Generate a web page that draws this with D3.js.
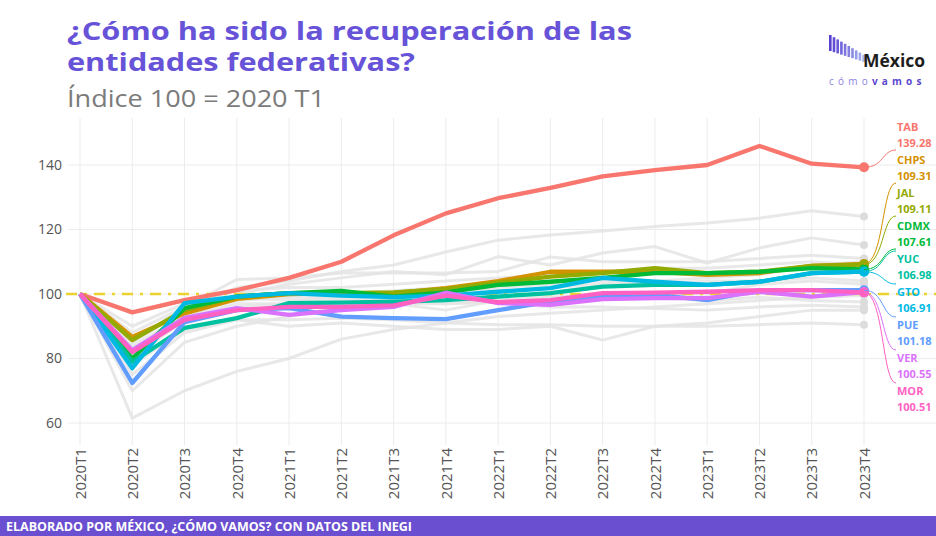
<!DOCTYPE html>
<html>
<head>
<meta charset="utf-8">
<script src="https://cdn.jsdelivr.net/npm/d3@7"></script>
<style>
  body { margin: 0; background: #fff; }
  svg { display: block; font-family: 'Open Sans', sans-serif; }
</style>
</head>
<body>
<main></main>
<script>
var quarters = ['2020T1', '2020T2', '2020T3', '2020T4', '2021T1', '2021T2', '2021T3', '2021T4',
                '2022T1', '2022T2', '2022T3', '2022T4', '2023T1', '2023T2', '2023T3', '2023T4'];
var yTicks = [60, 80, 100, 120, 140];

// highlighted states, in the order of the labels on the right
var states  = ['TAB', 'CHPS', 'JAL', 'CDMX', 'YUC', 'GTO', 'PUE', 'VER', 'MOR'];
var colours = ['#F8766D', '#D39200', '#93AA00', '#00BA38', '#00C19F', '#00B9E3', '#619CFF', '#DB72FB', '#FF61C3'];
var lastValues = [139.28, 109.31, 109.11, 107.61, 106.98, 106.91, 101.18, 100.55, 100.51];

var TAB  = [100, 94.3, 98.1, 101.2, 105.0, 110.0, 118.2, 125.0, 129.7, 132.9, 136.5, 138.4, 140.0, 145.9, 140.4, 139.28];
var CHPS = [100, 86.7, 94.0, 98.5, 100.0, 100.3, 100.3, 101.8, 104.0, 106.9, 106.9, 106.9, 105.9, 106.5, 108.7, 109.31];
var JAL  = [100, 85.7, 95.0, 99.2, 100.3, 100.3, 100.5, 101.5, 103.5, 105.4, 106.5, 108.0, 106.5, 106.9, 108.7, 109.11];
var CDMX = [100, 80.0, 95.6, 99.2, 100.3, 101.0, 99.2, 100.5, 102.8, 103.8, 105.0, 106.5, 106.5, 106.9, 108.0, 107.61];
var YUC  = [100, 79.0, 89.5, 92.5, 97.2, 97.3, 97.6, 98.1, 99.2, 100.3, 102.3, 102.8, 102.8, 103.8, 106.5, 106.98];
var GTO  = [100, 77.0, 97.2, 99.2, 100.3, 99.5, 99.0, 99.5, 100.7, 101.8, 105.0, 103.8, 102.8, 103.8, 106.5, 106.91];
var PUE  = [100, 72.4, 91.3, 95.0, 95.6, 93.0, 92.5, 92.2, 95.0, 97.6, 99.2, 99.7, 98.1, 101.2, 101.2, 101.18];
var VER  = [100, 82.6, 92.6, 95.6, 93.5, 95.0, 96.0, 100.4, 97.2, 96.6, 98.4, 98.7, 98.7, 100.7, 99.2, 100.55];
var MOR  = [100, 82.0, 92.0, 95.0, 96.0, 96.0, 96.5, 99.5, 97.5, 98.1, 100.3, 100.4, 100.7, 101.2, 101.2, 100.51];
var highlightedSeries = [TAB, CHPS, JAL, CDMX, YUC, GTO, PUE, VER, MOR];

// the rest of the states, drawn in grey
var greySeries = [
  [100, 85.0, 95.0, 102.0, 104.0, 107.0, 109.0, 113.0, 116.7, 118.3, 119.5, 120.9, 122.0, 123.5, 125.8, 124.0],
  [100, 80.0, 92.0, 100.0, 103.0, 105.0, 107.0, 106.0, 111.6, 109.0, 112.7, 114.7, 109.6, 114.3, 117.4, 115.2],
  [100, 61.5, 70.0, 76.0, 80.0, 86.0, 89.0, 91.0, 93.0, 94.0, 95.0, 96.0, 97.0, 98.0, 99.0, 99.5],
  [100, 75.0, 88.0, 92.0, 90.0, 91.0, 90.0, 89.0, 89.0, 90.0, 85.7, 90.0, 91.0, 93.0, 95.0, 95.0],
  [100, 84.0, 93.0, 97.0, 97.0, 98.0, 97.0, 97.0, 98.0, 99.0, 99.0, 100.0, 100.0, 103.0, 104.0, 103.0],
  [100, 88.0, 96.0, 104.5, 105.0, 106.5, 106.5, 106.5, 107.0, 111.5, 110.0, 110.0, 110.0, 111.0, 112.0, 111.0],
  [100, 82.0, 94.0, 98.0, 99.0, 99.0, 100.0, 101.0, 102.0, 103.0, 104.0, 103.0, 104.0, 104.0, 105.0, 104.0],
  [100, 86.0, 95.0, 99.0, 98.0, 98.5, 98.0, 97.0, 97.5, 96.0, 96.0, 95.5, 95.0, 96.0, 96.5, 96.0],
  [100, 78.0, 89.0, 92.0, 92.0, 92.5, 92.0, 91.0, 90.5, 90.5, 90.0, 90.0, 90.0, 90.5, 91.0, 90.5],
  [100, 83.0, 92.0, 96.0, 97.0, 100.0, 101.0, 102.0, 101.0, 102.0, 103.0, 104.0, 105.0, 106.0, 109.0, 110.0],
  [100, 90.0, 97.0, 101.0, 102.0, 102.0, 103.0, 104.0, 105.0, 106.0, 107.0, 108.0, 108.0, 109.0, 110.0, 109.0],
  [100, 70.0, 85.0, 90.0, 93.0, 96.0, 97.0, 95.0, 98.0, 99.0, 100.0, 99.0, 98.0, 99.0, 98.0, 97.5]
];

(function drawChart() {
  var svg = d3.select('main').append('svg').attr('width', 936).attr('height', 536);

  var x = d3.scalePoint().domain(quarters).range([80, 864]);
  var y = d3.scaleLinear().domain([60, 140]).range([423, 165]);
  var line = d3.line().x(function (d, i) { return x(quarters[i]); }).y(function (d) { return y(d); });

  // * title block
  svg.append('text').attr('x', 67).attr('y', 40).attr('textLength', 565).attr('lengthAdjust', 'spacingAndGlyphs')
     .style('font-size', '25px').style('font-weight', 700).style('fill', '#6753d8')
     .text('¿Cómo ha sido la recuperación de las');
  svg.append('text').attr('x', 67).attr('y', 71).attr('textLength', 348).attr('lengthAdjust', 'spacingAndGlyphs')
     .style('font-size', '25px').style('font-weight', 700).style('fill', '#6753d8')
     .text('entidades federativas?');
  svg.append('text').attr('x', 67).attr('y', 107).attr('textLength', 258).attr('lengthAdjust', 'spacingAndGlyphs')
     .style('font-size', '23px').style('fill', '#7b7b7b')
     .text('Índice 100 = 2020 T1');

  // * logo, top right
  var logo = svg.append('g').attr('id', 'js-logo');
  var bars = d3.range(10);
  var barColour = d3.interpolateRgb('#5840d0', '#a4b4f0');
  logo.selectAll('rect').data(bars).enter().append('rect')
      .attr('x', function (d) { return 829 + d * 3.7; })
      .attr('y', function (d) { return 35 + d * 2.2; })
      .attr('width', 2.6)
      .attr('height', function (d) { return 16 - d * 1.0; })
      .style('fill', function (d) { return barColour(d / 9); });
  logo.append('text').attr('x', 863).attr('y', 67).attr('textLength', 62).attr('lengthAdjust', 'spacingAndGlyphs')
      .style('font-size', '17px').style('font-weight', 700).style('fill', '#1d1d1d').text('México');
  var sub = logo.append('text').attr('x', 829).attr('y', 85).attr('textLength', 96)
      .style('font-size', '10px').style('letter-spacing', '3.5px');
  sub.append('tspan').style('fill', '#8d82e0').text('cómo');
  sub.append('tspan').style('fill', '#5c48d0').style('font-weight', 700).text('vamos');

  // * grid
  var grid = svg.append('g').attr('id', 'js-grid').style('stroke', '#ececec').style('stroke-width', 1);
  grid.selectAll('.v').data(quarters).enter().append('line').attr('class', 'v')
      .attr('x1', function (d) { return x(d); }).attr('x2', function (d) { return x(d); })
      .attr('y1', 118).attr('y2', 445);
  grid.selectAll('.h').data(yTicks).enter().append('line').attr('class', 'h')
      .attr('x1', 68).attr('x2', 936)
      .attr('y1', function (d) { return y(d); }).attr('y2', function (d) { return y(d); });

  // * axes, no domain lines or ticks
  var yAxis = svg.append('g').attr('transform', 'translate(66,0)')
      .call(d3.axisLeft(y).tickValues(yTicks).tickSize(0).tickPadding(4));
  var xAxis = svg.append('g').attr('transform', 'translate(0,445)')
      .call(d3.axisBottom(x).tickSize(0));
  svg.selectAll('.domain').remove();
  yAxis.selectAll('text').style('font-size', '14px').style('fill', '#555').style('font-family', 'Open Sans');
  xAxis.selectAll('text')
      .attr('y', 0).attr('x', -3).attr('dy', '0.35em')
      .attr('transform', 'rotate(-90)')
      .style('text-anchor', 'end').style('font-size', '15px').style('fill', '#555').style('font-family', 'Open Sans');

  // * grey states
  var greys = svg.append('g').attr('id', 'js-grey');
  greys.selectAll('path').data(greySeries).enter().append('path')
       .attr('d', line).style('fill', 'none').style('stroke', '#e4e4e4').style('stroke-width', 3)
       .style('stroke-opacity', 0.85).style('stroke-linejoin', 'round');
  greys.selectAll('circle').data(greySeries).enter().append('circle')
       .attr('cx', x(quarters[quarters.length - 1]))
       .attr('cy', function (d) { return y(d[d.length - 1]); })
       .attr('r', 4).style('fill', '#dcdcdc');

  // * reference line at 100
  svg.append('line').attr('x1', 66).attr('x2', 936).attr('y1', y(100)).attr('y2', y(100))
     .style('stroke', '#ebd22e').style('stroke-width', 2.5).style('stroke-dasharray', '11,7,3,7');

  // * highlighted states
  var hl = svg.append('g').attr('id', 'js-highlighted');
  hl.selectAll('path').data(highlightedSeries).enter().append('path')
    .attr('d', line).style('fill', 'none')
    .style('stroke', function (d, i) { return colours[i]; })
    .style('stroke-width', 4.3).style('stroke-linejoin', 'round');
  hl.selectAll('circle').data(highlightedSeries).enter().append('circle')
    .attr('cx', x(quarters[quarters.length - 1]))
    .attr('cy', function (d) { return y(d[d.length - 1]); })
    .attr('r', 5).style('fill', function (d, i) { return colours[i]; });

  // * repelled labels with curved leaders
  var labels = svg.append('g').attr('id', 'js-labels');
  var xEnd = x(quarters[quarters.length - 1]);
  states.forEach(function (name, i) {
    var nameY = 127 + i * 33;
    var py = y(highlightedSeries[i][highlightedSeries[i].length - 1]);
    var ty = (nameY + 16 < py) ? nameY + 23 : nameY - 8;
    labels.append('path')
          .attr('d', 'M' + xEnd + ',' + py + ' C' + (xEnd + 20) + ',' + py + ' ' + (xEnd + 18) + ',' + ty + ' ' + 896 + ',' + ty)
          .style('fill', 'none').style('stroke', colours[i]).style('stroke-width', 1);
    labels.append('text').attr('x', 897).attr('y', nameY).attr('dy', '0.35em')
          .style('font-size', '11px').style('font-weight', 700).style('fill', colours[i]).text(name);
    labels.append('text').attr('x', 897).attr('y', nameY + 16.5).attr('dy', '0.35em')
          .style('font-size', '11px').style('font-weight', 700).style('fill', colours[i]).text(lastValues[i].toFixed(2));
  });

  // * footer band
  svg.append('rect').attr('x', 0).attr('y', 516).attr('width', 936).attr('height', 20).style('fill', '#6a4fd0');
  svg.append('text').attr('x', 6).attr('y', 531).attr('textLength', 406).attr('lengthAdjust', 'spacingAndGlyphs')
     .style('font-size', '12.5px').style('font-weight', 700).style('fill', '#fff')
     .text('ELABORADO POR MÉXICO, ¿CÓMO VAMOS? CON DATOS DEL INEGI');
})();
</script>
</body>
</html>
